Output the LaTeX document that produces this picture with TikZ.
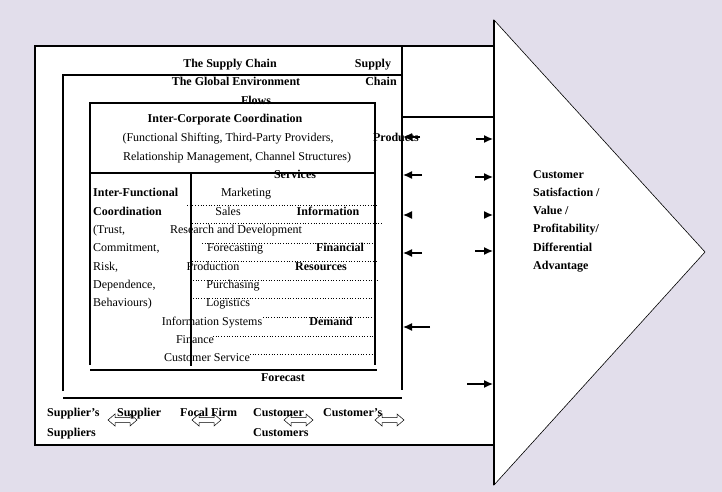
\documentclass[tikz,border=0pt]{standalone}
\usepackage{fontspec}
\setmainfont{Liberation Serif}
\usetikzlibrary{arrows.meta}
\definecolor{paper}{RGB}{226,222,235}

\begin{document}
\begin{tikzpicture}[x=1pt, y=-1pt,
		box/.style={line width=1.2pt},
		dots/.style={dotted, line width=0.7pt},
		txt/.style={anchor=base, inner sep=0pt, font=\fontsize{12}{14}\selectfont},
		bftxt/.style={txt, font=\fontsize{12}{14}\selectfont\bfseries},
		flow/.style={line width=1.3pt, -{Latex[length=9pt,width=8pt]}},
		swap/.style={line width=0.5pt}]

		% Draw the page
		\fill[paper] (0,0) rectangle (722,492);
		\useasboundingbox (0,0) rectangle (722,492);

		% Draw the outer box and the big arrow
		\draw[box, fill=white] (35,46) rectangle (494,445);
		\draw[line width=0.6pt, fill=white] (494,20) -- (705,252) -- (494,485) -- cycle;
		\draw[box] (494,20) -- (494,485);

		% Draw the global environment frame
		\draw[box] (402,46) -- (402,390);
		\draw[box] (63,391) -- (63,75) -- (402,75);
		\draw[box] (63,398) -- (402,398);
		\draw[box] (402,117) -- (494,117);

		% Draw the inter-corporate box
		\draw[box] (90,365) -- (90,103) -- (375,103) -- (375,365);
		\draw[box] (90,173) -- (375,173);
		\draw[box] (191,173) -- (191,366);
		\draw[box] (90,370) -- (377,370);

		% Draw the dotted rows
		\foreach \y/\a/\b in {205/187/377, 223/192/383, 243/202/373, 261/192/378, 280/193/378,
			298/193/373, 317/263/372, 336/213/377, 354/250/372}
			\draw[dots] (\a,\y) -- (\b,\y);

		% Draw the flows
		\foreach \y/\a in {137/420, 175/422, 215/412, 253/422, 327/430}
			\draw[flow] (\a,\y) -- (403,\y);
		\foreach \y/\a in {139/476, 177/475, 215/485, 251/475, 384/467}
			\draw[flow] (\a,\y) -- (493,\y);

		% Draw the two-way arrows between the firms
		\foreach \x in {108,192,284,375}
			\draw[swap] (\x,420) -- ++(7,-6) -- ++(0,3.5) -- ++(15,0) -- ++(0,-3.5) -- ++(7,6)
				-- ++(-7,6) -- ++(0,-3.5) -- ++(-15,0) -- ++(0,3.5) -- cycle;

		% Top labels
		\node[bftxt] (chain) at (230,68) {The Supply Chain};
		\node[bftxt] (supply) at (373,68) {Supply};
		\node[bftxt] (global) at (236,86) {The Global Environment};
		\node[bftxt] (chainb) at (381,86) {Chain};
		\node[bftxt] (flows) at (256,105) {Flows};
		\node[bftxt] (intercorp) at (225,123) {Inter-Corporate Coordination};
		\node[txt] (shift) at (228,141) {(Functional Shifting, Third-Party Providers,};
		\node[txt] (manage) at (237,160) {Relationship Management, Channel Structures)};
		\node[bftxt] (services) at (295,178) {Services};
		\node[bftxt] (products) at (396,141) {Products};

		% Inter-functional column
		\node[bftxt, anchor=base west] (interfun) at (93,196) {Inter-Functional};
		\node[bftxt, anchor=base west] (coord) at (93,215) {Coordination};
		\node[txt, anchor=base west] (trust) at (93,233) {(Trust,};
		\node[txt, anchor=base west] (commit) at (93,251) {Commitment,};
		\node[txt, anchor=base west] (risk) at (93,270) {Risk,};
		\node[txt, anchor=base west] (depend) at (93,288) {Dependence,};
		\node[txt, anchor=base west] (behave) at (93,306) {Behaviours)};

		% Functions
		\node[txt] (marketing) at (246,196) {Marketing};
		\node[txt] (sales) at (228,215) {Sales};
		\node[txt] (rnd) at (236,233) {Research and Development};
		\node[txt] (forecasting) at (235,251) {Forecasting};
		\node[txt] (production) at (213,270) {Production};
		\node[txt] (purchasing) at (233,288) {Purchasing};
		\node[txt] (logistics) at (228,306) {Logistics};
		\node[txt] (infosys) at (212,325) {Information Systems};
		\node[txt] (finance) at (195,343) {Finance};
		\node[txt] (service) at (207,361) {Customer Service};

		% Flow labels
		\node[bftxt] (information) at (328,215) {Information};
		\node[bftxt] (financial) at (340,251) {Financial};
		\node[bftxt] (resources) at (321,270) {Resources};
		\node[bftxt] (demand) at (331,325) {Demand};
		\node[bftxt] (forecast) at (283,381) {Forecast};

		% The chain of firms
		\node[bftxt, anchor=base west] (suppsupp) at (47,416) {Supplier’s};
		\node[bftxt, anchor=base west] (suppsuppb) at (47,436) {Suppliers};
		\node[bftxt, anchor=base west] (supplier) at (117,416) {Supplier};
		\node[bftxt, anchor=base west] (focal) at (180,416) {Focal Firm};
		\node[bftxt, anchor=base west] (customer) at (253,416) {Customer};
		\node[bftxt, anchor=base west] (custcust) at (253,436) {Customers};
		\node[bftxt, anchor=base west] (custcusta) at (323,416) {Customer’s};

		% Outcome in the arrow
		\foreach \t [count=\i] in {Customer, {Satisfaction /}, {Value /}, Profitability/, Differential, Advantage}
			\node[bftxt, anchor=base west] (goal\i) at (533,{160+18.2*\i}) {\t};

	\end{tikzpicture}
\end{document}
